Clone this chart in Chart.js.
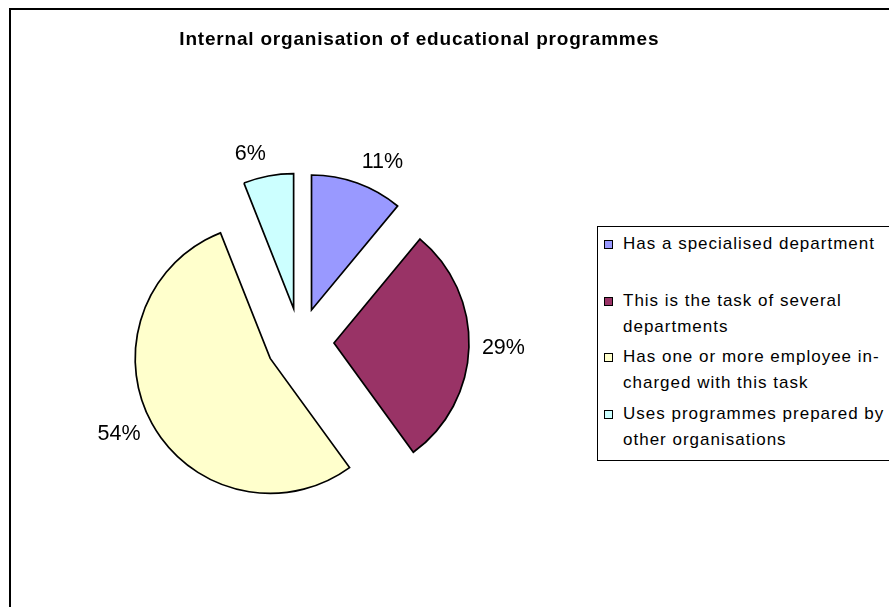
<!DOCTYPE html>
<html>
<head>
<meta charset="utf-8">
<title>Internal organisation of educational programmes</title>
<script src="https://cdn.jsdelivr.net/npm/chart.js@4/dist/chart.umd.min.js"></script>
<style>
  html, body { margin: 0; padding: 0; background: #fff; }
  body {
    width: 889px; height: 607px; position: relative; overflow: hidden;
    font-family: "Liberation Sans", Arial, sans-serif; color: #000;
  }
  /* chart frame runs past the right and bottom edge */
  #frame {
    position: absolute; left: 9px; top: 8px; width: 1000px; height: 700px;
    border: 2px solid #000; box-sizing: border-box;
  }
  #pie { position: absolute; left: 0; top: 0; }
  #title {
    position: absolute; left: 0; top: 29px; width: 837px; padding-left: 0.8px;
    text-align: center; font-weight: bold; font-size: 19px; line-height: 19px;
    letter-spacing: 0.8px; white-space: nowrap;
  }
  #legend {
    position: absolute; left: 597px; top: 226px; width: 400px; height: 235px;
    border: 1px solid #000; box-sizing: border-box; padding-top: 4px; background: #fff;
  }
  .item { position: relative; height: 56.7px; padding-left: 25px; }
  .swatch {
    position: absolute; left: 6px; top: 9px; width: 9px; height: 9px;
    border: 1px solid #000; box-sizing: border-box;
  }
  .text { width: 274px; font-size: 17px; line-height: 26px; letter-spacing: 1px; }
</style>
</head>
<body>
<div id="frame"></div>
<canvas id="pie" width="889" height="607"></canvas>
<div id="title">Internal organisation of educational programmes</div>
<div id="legend"></div>
<script>
const categories = [
  'Has a specialised department',
  'This is the task of several departments',
  'Has one or more employee in-charged with this task',
  'Uses programmes prepared by other organisations',
];
const shares = [11, 29, 54, 6];
const sliceColors = ['#9999ff', '#993366', '#ffffcc', '#ccffff'];

const EXPLODE = 34;    // every slice is pulled out this far along its mid angle
const LABEL_GAP = 13;  // gap between slice rim and its percentage label

// Draw each arc shifted outwards instead of the default in-place drawing.
const explodedSlices = {
  id: 'explodedSlices',
  beforeDatasetDraw(chart, args) {
    const ctx = chart.ctx;
    args.meta.data.forEach((arc) => {
      const mid = (arc.startAngle + arc.endAngle) / 2;
      ctx.save();
      ctx.translate(Math.cos(mid) * EXPLODE, Math.sin(mid) * EXPLODE);
      arc.draw(ctx);
      ctx.restore();
    });
    return false;
  },
};

// Percentage labels sitting just outside each exploded slice.
const percentLabels = {
  id: 'percentLabels',
  afterDatasetsDraw(chart) {
    const ctx = chart.ctx;
    const meta = chart.getDatasetMeta(0);
    ctx.save();
    ctx.font = '21.5px "Liberation Sans", Arial, sans-serif';
    ctx.fillStyle = '#000';
    ctx.textAlign = 'center';
    ctx.textBaseline = 'middle';
    meta.data.forEach((arc, i) => {
      const mid = (arc.startAngle + arc.endAngle) / 2;
      const cos = Math.cos(mid);
      const sin = Math.sin(mid);
      const text = shares[i] + '%';
      const hw = ctx.measureText(text).width / 2;
      const dist = EXPLODE + arc.outerRadius + LABEL_GAP;
      const x = arc.x + cos * dist + Math.sign(cos) * hw;
      const y = arc.y + sin * dist + sin * 9;
      ctx.fillText(text, x, y);
    });
    ctx.restore();
  },
};

new Chart(document.getElementById('pie'), {
  type: 'pie',
  data: {
    labels: categories,
    datasets: [{
      data: shares,
      backgroundColor: sliceColors,
      borderColor: '#000',
      borderWidth: 1.7,
      borderJoinStyle: 'miter',
      radius: 135,
    }],
  },
  options: {
    responsive: false,
    animation: false,
    events: [],
    layout: { padding: { left: 130, right: 419, top: 172, bottom: 95 } },
    plugins: {
      legend: { display: false },
      title: { display: false },
      tooltip: { enabled: false },
    },
  },
  plugins: [explodedSlices, percentLabels],
});

// legend box on the right
const legend = document.getElementById('legend');
categories.forEach((name, i) => {
  const item = document.createElement('div');
  item.className = 'item';
  const sw = document.createElement('span');
  sw.className = 'swatch';
  sw.style.background = sliceColors[i];
  const txt = document.createElement('div');
  txt.className = 'text';
  txt.textContent = name;
  item.appendChild(sw);
  item.appendChild(txt);
  legend.appendChild(item);
});
</script>
</body>
</html>
